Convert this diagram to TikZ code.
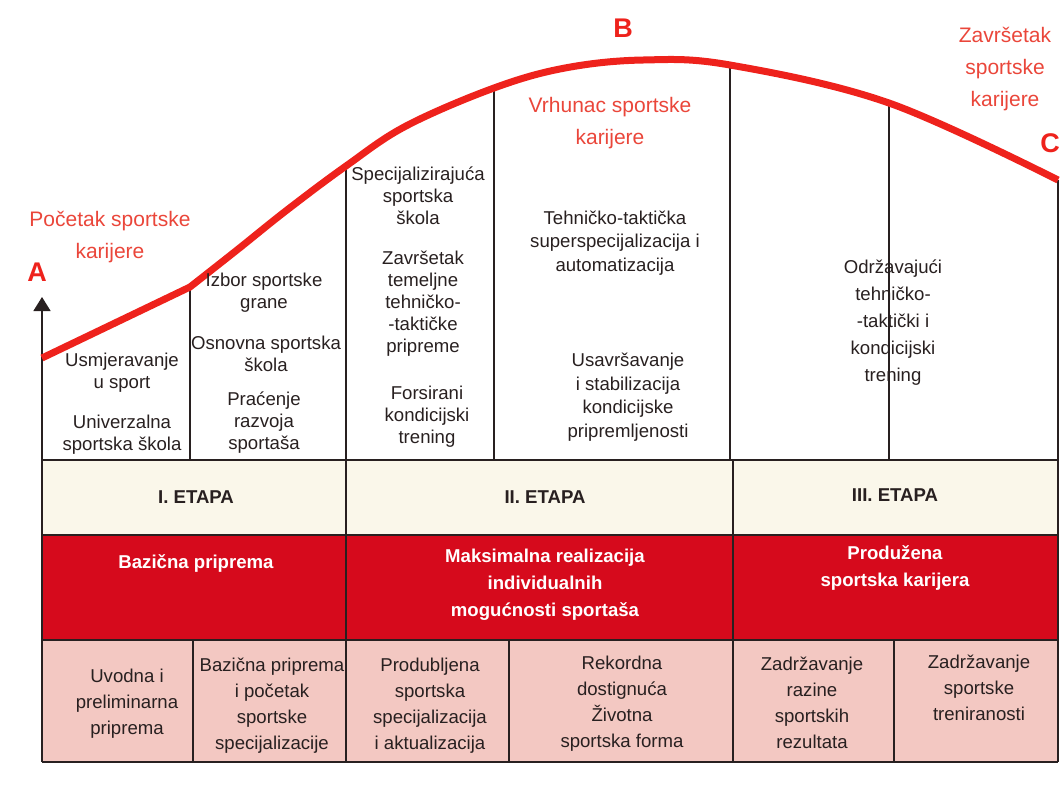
\documentclass[tikz,border=0pt]{standalone}
\usepackage{fontspec}
\setmainfont{Liberation Sans}
\usetikzlibrary{arrows.meta}
\definecolor{curvered}{RGB}{238,34,28}
\definecolor{bandred}{RGB}{214,10,28}
\definecolor{labelred}{RGB}{234,70,58}
\definecolor{etapacol}{RGB}{250,247,234}
\definecolor{pinkcol}{RGB}{243,200,194}
\definecolor{inkcol}{RGB}{40,32,32}

\begin{document}
\begin{tikzpicture}[x=0.5pt, y=-0.5pt,
  txt/.style={align=center, text=inkcol, inner sep=0pt, font=\fontsize{9.3}{11}\selectfont},
  low/.style={align=center, text=inkcol, inner sep=0pt, font=\fontsize{9.3}{13}\selectfont},
  band/.style={align=center, text=white, inner sep=0pt, font=\bfseries\fontsize{9.3}{13.5}\selectfont},
  etapa/.style={text=inkcol, inner sep=0pt, font=\bfseries\fontsize{9.3}{11}\selectfont},
  redlabel/.style={align=center, text=labelred, inner sep=0pt, font=\fontsize{10.5}{16}\selectfont},
  letter/.style={text=curvered, inner sep=0pt, font=\bfseries\fontsize{13.5}{14}\selectfont},
  grid/.style={draw=inkcol, line width=0.7pt}]
\useasboundingbox (0,0) rectangle (1061,789);

% points on the career curve
\coordinate (pA) at (42,358);
\coordinate (c1) at (190,287);
\coordinate (c2) at (346,166);
\coordinate (c3) at (494,88);
\coordinate (c4) at (730,65);
\coordinate (c5) at (889,103);
\coordinate (pC) at (1058,180);

% table rows
\fill[etapacol] (42,460) rectangle (1058,535);
\fill[bandred] (42,535) rectangle (1058,640);
\fill[pinkcol] (42,640) rectangle (1058,762);
\foreach \y in {460,535,640,762}
  \draw[grid] (42,\y) -- (1058,\y);
\foreach \x in {42,346,733,1058}
  \draw[grid] (\x,460) -- (\x,762);
\foreach \x in {193,509,894}
  \draw[grid] (\x,640) -- (\x,762);

% columns under the curve
\foreach \c in {c1,c2,c3,c4,c5,pC}
  \draw[grid] (\c) -- (\c |- 0,460);
\draw[inkcol, line width=0.8pt, -{Triangle[width=8.5pt,length=7pt]}] (42,460) -- (42,297);

% the curve A-B-C
\draw[curvered, line width=3.5pt, line join=round]
  (pA) -- plot[smooth, tension=0.6] coordinates {(c1) (237,250) (287,210) (c2) (406,126) (c3) (565,68) (643,60) (c4) (c5) (pC)};

\node[letter] (la) at (37,272) {A};
\node[letter] (lb) at (623,28) {B};
\node[letter] (lc) at (1050,143) {C};
\node[redlabel] (pocetak) at (110,237) {Početak sportske\\karijere};
\node[redlabel] (vrhunac) at (610,123) {Vrhunac sportske\\karijere};
\node[redlabel] (zavrsetak) at (1005,69) {Završetak\\sportske\\karijere};

% texts under the curve
\node[txt] (usmj) at (122,373) {Usmjeravanje\\u sport};
\node[txt] (univ) at (122,435) {Univerzalna\\sportska škola};
\node[txt] (izbor) at (264,293) {Izbor sportske\\grane};
\node[txt] (osnovna) at (266,354) {Osnovna sportska\\škola};
\node[txt] (pracenje) at (264,423) {Praćenje\\razvoja\\sportaša};
\node[txt] (specij) at (418,196) {Specijalizirajuća\\sportska\\škola};
\node[txt] (temeljne) at (423,304) {Završetak\\temeljne\\tehničko-\\-taktičke\\pripreme};
\node[txt] (forsirani) at (427,417) {Forsirani\\kondicijski\\trening};
\node[txt, font=\fontsize{9.3}{11.7}\selectfont] (superspec) at (615,243) {Tehničko-taktička\\superspecijalizacija i\\automatizacija};
\node[txt, font=\fontsize{9.3}{11.8}\selectfont] (usavrs) at (628,397) {Usavršavanje\\i stabilizacija\\kondicijske\\pripremljenosti};
\node[txt, font=\fontsize{9.3}{13.5}\selectfont] (odrzav) at (893,323) {Održavajući\\tehničko-\\-taktički i\\kondicijski\\trening};

% stages
\node[etapa] (et1) at (196,497) {I. ETAPA};
\node[etapa] (et2) at (545,497) {II. ETAPA};
\node[etapa] (et3) at (895,495) {III. ETAPA};
\node[band] (bazicna) at (196,563) {Bazična priprema};
\node[band] (maks) at (545,585) {Maksimalna realizacija\\individualnih\\mogućnosti sportaša};
\node[band] (produz) at (895,568) {Produžena\\sportska karijera};

% bottom row
\node[low] (uvodna) at (127,704) {Uvodna i\\preliminarna\\priprema};
\node[low] (pocsp) at (272,706) {Bazična priprema\\i početak\\sportske\\specijalizacije};
\node[low] (produb) at (430,706) {Produbljena\\sportska\\specijalizacija\\i aktualizacija};
\node[low] (rekord) at (622,704) {Rekordna\\dostignuća\\Životna\\sportska forma};
\node[low] (razine) at (812,703) {Zadržavanje\\razine\\sportskih\\rezultata};
\node[low] (trenir) at (979,688) {Zadržavanje\\sportske\\treniranosti};
\end{tikzpicture}
\end{document}
